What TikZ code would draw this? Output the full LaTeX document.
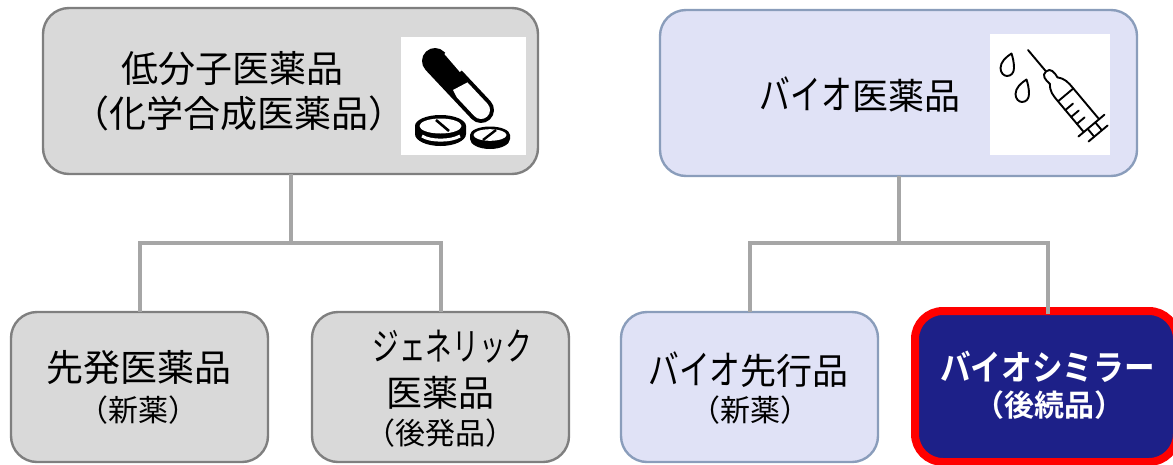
\documentclass[tikz,border=0pt]{standalone}
\usepackage{graphicx}
\usepackage{fontspec}
\setmainfont{Noto Sans CJK JP}
\newfontfamily\jpbold{Noto Sans CJK JP Bold}
\definecolor{grayfill}{HTML}{D9D9D9}
\definecolor{grayline}{HTML}{7F7F7F}
\definecolor{lavfill}{HTML}{E0E2F6}
\definecolor{lavline}{HTML}{8A9DBB}
\definecolor{navyfill}{HTML}{1D2088}
\definecolor{connline}{HTML}{A6A6A6}
\newcommand{\fs}[1]{\fontsize{#1}{#1}\selectfont}
\newcommand{\kn}[2]{\scalebox{#1}[1]{#2}}
\tikzset{
  box/.style={draw,rectangle,rounded corners=26pt,line width=2.4pt,inner sep=0pt,outer sep=0pt},
  graybox/.style={box,draw=grayline,fill=grayfill},
  lavbox/.style={box,draw=lavline,fill=lavfill},
  simbox/.style={box,draw=red,fill=navyfill,line width=8pt,rounded corners=28pt},
  conn/.style={draw=connline,line width=4pt},
  label/.style={inner sep=0pt,outer sep=0pt,text=black,anchor=center},
  iconbg/.style={fill=white,draw=none,inner sep=0pt,outer sep=0pt},
  syr/.style={draw=black,line width=1.9pt,line cap=round,line join=round,fill=none}
}
\begin{document}
\begin{tikzpicture}[x=1pt,y=-1pt]
\useasboundingbox (0,0) rectangle (1173,464);
\clip (0,0) rectangle (1173,464);
% boxes
\node[graybox,minimum width=495pt,minimum height=166pt] (low) at (290.5,91) {};
\node[lavbox,minimum width=477pt,minimum height=166pt] (bio) at (898.5,93) {};
\node[graybox,minimum width=257pt,minimum height=150pt] (orig) at (139.5,387) {};
\node[graybox,minimum width=257pt,minimum height=150pt] (gen) at (440.5,387) {};
\node[lavbox,minimum width=257pt,minimum height=150pt] (first) at (749.5,387) {};
\node[simbox,minimum width=262pt,minimum height=151pt] (sim) at (1046,386.5) {};
% connectors
\coordinate (jl) at (290.5,243);
\coordinate (jr) at (898.5,243);
\draw[conn] (low.south) -- (jl);
\draw[conn] (orig.north) |- (jl) -| (gen.north);
\draw[conn] (bio.south) -- (jr);
\draw[conn] (first.north) |- (jr) -| ([xshift=2pt,yshift=-3pt]sim.north);
% icons
\node[iconbg,minimum width=125pt,minimum height=118pt] (pillbg) at (463.5,96) {};
\node[iconbg,minimum width=120pt,minimum height=121pt] (syrbg) at (1050,94.5) {};
% capsule
\draw[line width=26pt,line cap=round,black] (435,61) -- (481,110);
\begin{scope}
\clip (453,90) -- (472,80) -- (512,120) -- (480,142) -- cycle;
\draw[line width=18pt,line cap=round,white] (435,61) -- (481,110);
\end{scope}
\draw[line width=3pt,white] (445.5,53) -- (461,71);
% large tablet
\fill[black] (415,126) -- (415,134) arc[start angle=180,end angle=360,x radius=25.5pt,y radius=12pt] -- (466,126) -- cycle;
\fill[black] (440.5,126) ellipse[x radius=25.5pt,y radius=11pt];
\fill[white] (440.5,126) ellipse[x radius=21pt,y radius=7.5pt];
\draw[line width=2.6pt,black] (436,120) -- (449,131);
\draw[line width=3pt,white] (422,136) .. controls (430,141.5) and (451,141.5) .. (460,136);
% small tablet
\fill[black] (470,135) -- (470,139) arc[start angle=180,end angle=360,x radius=20pt,y radius=10pt] -- (510,135) -- cycle;
\fill[black] (490,135) ellipse[x radius=20pt,y radius=8.5pt];
\fill[white] (490,135) ellipse[x radius=16.5pt,y radius=5.8pt];
\draw[line width=2.4pt,black] (483,140) -- (496,130);
% drops
\draw[syr] (1011.5,53.5) .. controls (1006,57) and (1000.5,62) .. (1000.5,68)
  .. controls (1000.5,73) and (1004,76) .. (1007,76)
  .. controls (1011,76) and (1014,73) .. (1014,68)
  .. controls (1014,63) and (1013,58) .. cycle;
\begin{scope}[shift={(15,26)}]
\draw[syr] (1011.5,53.5) .. controls (1006,57) and (1000.5,62) .. (1000.5,68)
  .. controls (1000.5,73) and (1004,76) .. (1007,76)
  .. controls (1011,76) and (1014,73) .. (1014,68)
  .. controls (1014,63) and (1013,58) .. cycle;
\end{scope}
% syringe
\begin{scope}[shift={(1028,50)},rotate=-50]
\draw[syr] (0,0) -- (28,0);
\draw[syr] (40,-5) .. controls (34,-6) and (28,-6) .. (28,0) .. controls (28,6) and (34,6) .. (40,5);
\draw[syr] (40,-5) .. controls (46,-10) and (50,-10) .. (58.6,-10) -- (98.7,-10)
  (98.7,10) -- (58.6,10) .. controls (50,10) and (46,10) .. (40,5);
\draw[syr] (58.6,-10) -- (58.6,10);
\draw[syr] (70,10) -- (70,0);
\draw[syr] (79,10) -- (79,0);
\draw[syr] (88,10) -- (88,0);
\draw[syr] (98.7,-17) -- (98.7,17);
\draw[syr] (98.7,-5) -- (109,-5) (98.7,5) -- (109,5);
\draw[syr] (109,-12.5) -- (109,12.5);
\end{scope}
% labels
\node[label,font=\fs{37}] (t1) at (232,69) {低分子医薬品};
\node[label,font=\fs{37}] (t2) at (238.5,113) {（化学合成医薬品）};
\node[label,font=\fs{36}] (t3) at (860,95) {\kn{0.77}{\fs{40}バイオ}医薬品};
\node[label,font=\fs{37}] (t4) at (139,368) {先発医薬品};
\node[label,font=\fs{30}] (t5) at (138.5,410) {（新薬）};
\node[label,font=\fs{38}] (t6) at (452.5,347) {\kn{0.70}{ジェネリック}};
\node[label,font=\fs{36}] (t7) at (440,393) {医薬品};
\node[label,font=\fs{30}] (t8) at (440,433) {（後発品）};
\node[label,font=\fs{36}] (t9) at (748.5,370) {\kn{0.77}{\fs{40}バイオ}先行品};
\node[label,font=\fs{30}] (t10) at (750,410) {（新薬）};
\node[label,font=\jpbold\fs{35},text=white] (t11) at (1047.5,367) {\kn{0.875}{バイオシミラー}};
\node[label,font=\jpbold\fs{30},text=white] (t12) at (1049,405) {（後続品）};
\end{tikzpicture}
\end{document}
